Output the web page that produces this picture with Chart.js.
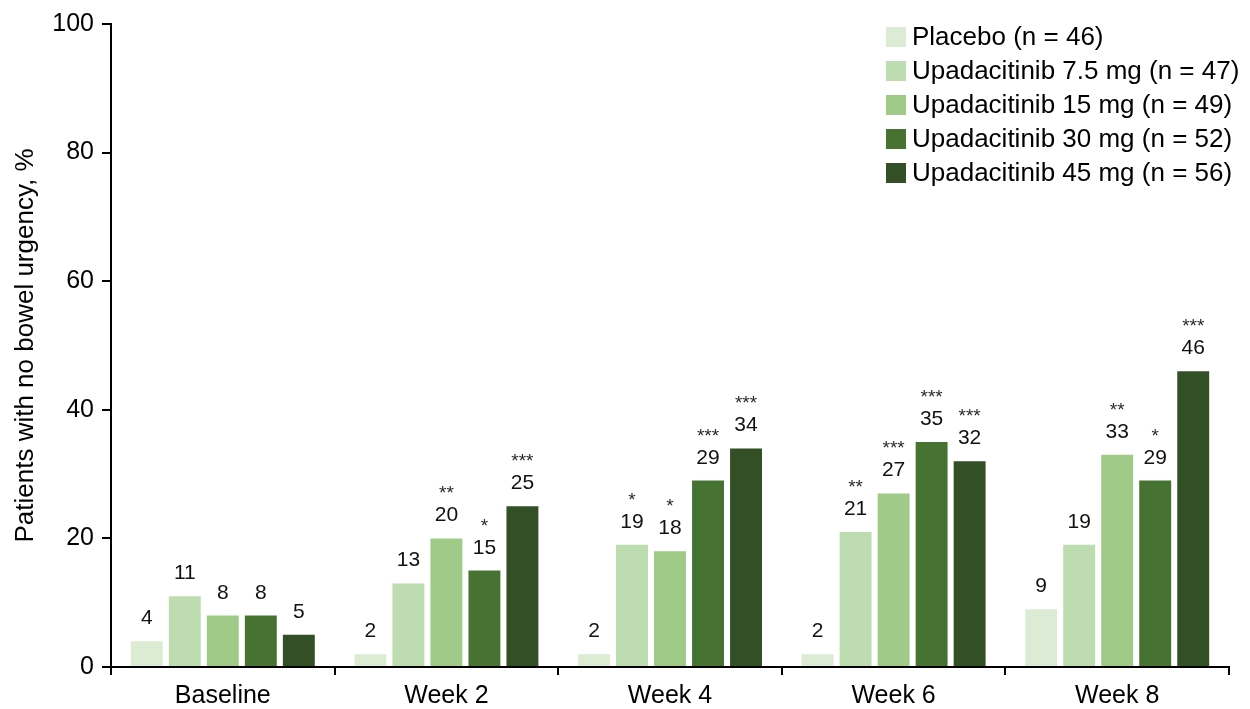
<!DOCTYPE html>
<html>
<head>
<meta charset="utf-8">
<title>Patients with no bowel urgency</title>
<script src="https://cdn.jsdelivr.net/npm/chart.js@4"></script>
<style>
  html, body { margin: 0; padding: 0; background: #ffffff; }
  #wrap { width: 1250px; height: 709px; }
</style>
</head>
<body>
<div id="wrap"><canvas id="c" width="1250" height="709"></canvas></div>
<script>
// Visit categories
const visits = ['Baseline', 'Week 2', 'Week 4', 'Week 6', 'Week 8'];

// Treatment arms
const armNames = [
  'Placebo (n = 46)',
  'Upadacitinib 7.5 mg (n = 47)',
  'Upadacitinib 15 mg (n = 49)',
  'Upadacitinib 30 mg (n = 52)',
  'Upadacitinib 45 mg (n = 56)'
];
const armColors = ['#dcebd4', '#bddcb0', '#9fca88', '#467232', '#334f25'];

// Percentage of patients with no bowel urgency, per visit
const placebo = [4, 2, 2, 2, 9];
const upa7_5  = [11, 13, 19, 21, 19];
const upa15   = [8, 20, 18, 27, 33];
const upa30   = [8, 15, 29, 35, 29];
const upa45   = [5, 25, 34, 32, 46];

// Significance markers vs placebo, per visit
const sigPlacebo = ['', '', '', '', ''];
const sig7_5     = ['', '', '*', '**', ''];
const sig15      = ['', '**', '*', '***', '**'];
const sig30      = ['', '*', '***', '***', '*'];
const sig45      = ['', '***', '***', '***', '***'];

// Y-axis ticks
const yTicks = [0, 20, 40, 60, 80, 100];

const seriesValues = [placebo, upa7_5, upa15, upa30, upa45];
const seriesSig = [sigPlacebo, sig7_5, sig15, sig30, sig45];

const FONT = '"Liberation Sans", Arial, Helvetica, sans-serif';

const datasets = armNames.map((name, i) => ({
  label: name,
  data: seriesValues[i],
  sig: seriesSig[i],
  backgroundColor: armColors[i],
  borderWidth: 0,
  categoryPercentage: 0.85,
  barPercentage: 0.84
}));

// Value and significance labels above each bar
const barLabels = {
  id: 'barLabels',
  afterDatasetsDraw(chart) {
    const ctx = chart.ctx;
    ctx.save();
    ctx.textAlign = 'center';
    ctx.textBaseline = 'alphabetic';
    chart.data.datasets.forEach((ds, di) => {
      const meta = chart.getDatasetMeta(di);
      meta.data.forEach((bar, i) => {
        const x = bar.x;
        const top = bar.y;
        ctx.fillStyle = '#111111';
        ctx.font = '21px ' + FONT;
        ctx.fillText(String(ds.data[i]), x, top - 17);
        const s = ds.sig[i];
        if (s) {
          ctx.fillStyle = '#2a2a2a';
          ctx.font = '19px ' + FONT;
          ctx.fillText(s, x, top - 39);
        }
      });
    });
    ctx.restore();
  }
};

// Legend block in the upper right
const legendBox = {
  id: 'legendBox',
  afterDraw(chart) {
    const ctx = chart.ctx;
    ctx.save();
    ctx.textAlign = 'left';
    ctx.textBaseline = 'middle';
    ctx.font = '26px ' + FONT;
    const x0 = 886, size = 20, y0 = 37, step = 34;
    chart.data.datasets.forEach((ds, i) => {
      const cy = y0 + i * step;
      ctx.fillStyle = ds.backgroundColor;
      ctx.fillRect(x0, cy - size / 2, size, size);
      ctx.fillStyle = '#000000';
      ctx.fillText(ds.label, x0 + 26, cy + 1);
    });
    ctx.restore();
  }
};

new Chart(document.getElementById('c'), {
  type: 'bar',
  data: { labels: visits, datasets },
  options: {
    responsive: false,
    animation: false,
    devicePixelRatio: 1,
    layout: { padding: { top: 24, right: 21, bottom: 0, left: 0 } },
    plugins: {
      legend: { display: false },
      tooltip: { enabled: false }
    },
    scales: {
      x: {
        grid: {
          offset: true,
          drawOnChartArea: false,
          drawTicks: true,
          tickLength: 8,
          color: '#000000',
          lineWidth: 2
        },
        border: { display: true, color: '#000000', width: 2 },
        ticks: {
          color: '#000000',
          font: { family: FONT, size: 25 },
          padding: 6
        },
        afterFit(scale) { scale.height = 42; }
      },
      y: {
        min: 0,
        max: 100,
        afterBuildTicks(scale) { scale.ticks = yTicks.map(v => ({ value: v })); },
        grid: {
          drawOnChartArea: false,
          drawTicks: true,
          tickLength: 9,
          color: '#000000',
          lineWidth: 2
        },
        border: { display: true, color: '#000000', width: 2 },
        ticks: {
          color: '#000000',
          font: { family: FONT, size: 25 },
          padding: 8
        },
        title: {
          display: true,
          text: 'Patients with no bowel urgency, %',
          color: '#000000',
          font: { family: FONT, size: 26 },
          padding: { top: 10, bottom: 0 }
        },
        afterFit(scale) { scale.width = 111; }
      }
    }
  },
  plugins: [barLabels, legendBox]
});
</script>
</body>
</html>
